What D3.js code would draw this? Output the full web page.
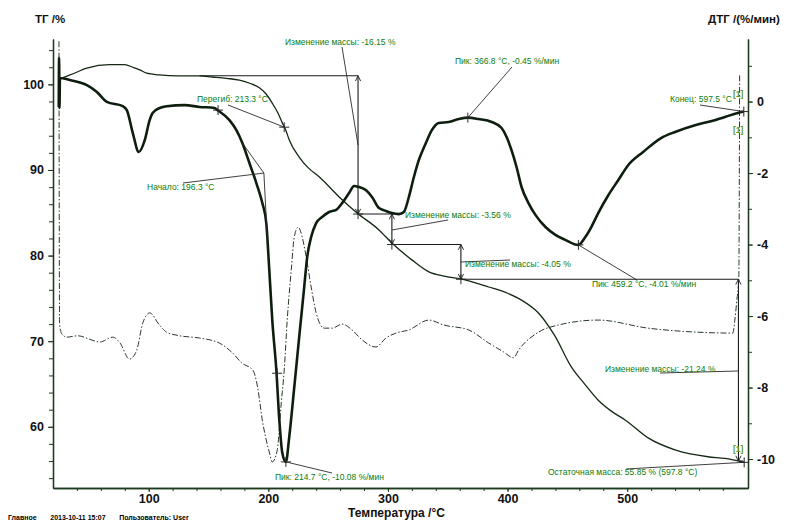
<!DOCTYPE html>
<html>
<head>
<meta charset="utf-8">
<script src="https://cdn.jsdelivr.net/npm/d3@7"></script>
<style>
  body { margin: 0; background: #fff; }
  text { font-family: "Liberation Sans", Arial, sans-serif; }
  .ann { font-size: 8.5px; fill: #0c7c0c; }
  .axis text { font-size: 12.5px; font-weight: bold; fill: #111; }
  .title { font-size: 11.5px; font-weight: bold; fill: #111; }
</style>
</head>
<body>
<svg id="chart" width="791" height="522"></svg>
<script>
// ТГ кривая: [температура °C, масса %]
const tgData = [
  [25.0, 100.8], [25.8, 100.75], [34.2, 101.1], [48.3, 101.9], [67.5, 102.3], [80, 102.3],
  [86.7, 102.0], [92.5, 101.7], [98.3, 101.3], [109, 101.1], [125, 101.0], [142.5, 101.0],
  [153.3, 100.86], [165, 100.7], [175.8, 100.5], [185, 100.1], [192.5, 99.6], [198, 98.9],
  [203.3, 97.8], [207.5, 96.8], [211.7, 95.5], [214.7, 94.6], [217.5, 93.5], [225.8, 91.5],
  [233, 90.3], [242.5, 89.2], [259.2, 86.85], [274.2, 84.98], [292.5, 83.0], [303.3, 81.47],
  [320, 79.5], [334.2, 78.1], [347, 77.6], [360.8, 77.27], [384.2, 76.33], [400, 75.6],
  [411.7, 74.8], [425.8, 73.3], [439.2, 70.7], [453.3, 67.0], [465, 64.9], [475.8, 63.1],
  [487, 61.8], [498.3, 60.8], [517.5, 58.7], [540, 57.3], [567.5, 56.5], [581.7, 56.3],
  [597.8, 55.85]
];

// ДТГ кривая: [температура °C, %/мин]
const dtgData = [
  [24.8, -0.15], [25.1, 1.22], [25.4, -0.18], [25.8, 0.66], [34.2, 0.60], [48.3, 0.46],
  [56.7, 0.27], [65, -0.01], [78.3, -0.13], [81.7, -0.24], [86.7, -0.88], [91.7, -1.41],
  [96.7, -1.08], [100.8, -0.52], [103.3, -0.32], [109.2, -0.18], [115, -0.13], [130, -0.10],
  [142.5, -0.15], [155, -0.18], [157.5, -0.24], [167.5, -0.52], [173.3, -0.80], [178.3, -1.16],
  [184.2, -1.72], [190, -2.28], [195, -2.84], [198.3, -3.40], [200.8, -4.71], [203.3, -6.11],
  [206.7, -7.51], [209.2, -8.91], [211.7, -9.83], [214.7, -10.08], [217.5, -9.38], [221.7, -7.99],
  [225.8, -6.59], [230, -5.19], [232.5, -4.35], [235.8, -3.79], [240, -3.40], [245, -3.23],
  [250.8, -3.09], [256.7, -3.03], [261.7, -2.84], [267.5, -2.56], [271.7, -2.36], [275.8, -2.39],
  [281.7, -2.48], [286.7, -2.67], [292.5, -2.98], [298.3, -3.06], [303.3, -3.12], [309.2, -3.15],
  [313.3, -3.09], [317.5, -2.67], [321.7, -2.11], [325.8, -1.64], [331.7, -1.16], [336.7, -0.80],
  [342.5, -0.60], [350.8, -0.57], [359.2, -0.49], [366.8, -0.45], [375.8, -0.49], [386.7, -0.57],
  [395, -0.74], [399.2, -0.99], [403.3, -1.36], [407.5, -1.83], [411.7, -2.39], [417.5, -2.84],
  [423.3, -3.17], [431.7, -3.51], [440, -3.73], [448.3, -3.87], [459.2, -4.01], [465, -3.79],
  [470, -3.51], [475.8, -3.12], [484.2, -2.62], [492.5, -2.20], [500.8, -1.78], [513.3, -1.41],
  [528.3, -1.02], [540, -0.85], [556.7, -0.66], [570, -0.55], [581.7, -0.43], [592.5, -0.32],
  [597.5, -0.28]
];

// третья кривая (штрих-пунктир), без шкалы: условные единицы 0..100
const dtaData = [
  [25.0, 99.5], [25.5, 36.5], [27, 34.5], [31.5, 33.6], [40.8, 33.9], [52, 33.0], [59, 32.5],
  [70, 33.6], [76, 32.3], [84, 28.7], [90, 30.7], [95, 36.7], [100.8, 39.0], [109, 36.3],
  [115, 34.7], [126, 33.9], [142.5, 33.4], [159, 32.3], [170, 30.1], [178, 27.8], [187, 26.3],
  [191, 22.5], [195, 15.1], [201, 7.8], [203.3, 5.8], [207.5, 8.5], [210.8, 18.9], [213.3, 26.3],
  [215.8, 37.4], [219.2, 48.6], [221.7, 55.9], [225, 58.1], [228.3, 55.9], [231.7, 51.4],
  [235.8, 44.8], [240, 39.0], [246.7, 35.6], [253.3, 35.6], [261.7, 36.5], [270, 35.2],
  [278.3, 33.0], [290, 31.4], [298.3, 33.4], [306.7, 34.5], [317.5, 35.2], [334.2, 37.4],
  [346.7, 36.3], [367.5, 35.2], [384.2, 32.3], [396.7, 30.3], [405, 29.0], [409.2, 30.7],
  [425.8, 34.7], [442.5, 36.3], [475.8, 37.4], [517.5, 35.6], [559.2, 34.7], [588.3, 34.5],
  [590, 37.4], [591.7, 41.9], [593.3, 46.3], [594, 92.0]
];

// ступени изменения массы: [T, уровень до, уровень после, T конца полки]
const massSteps = [
  [275, 101.0, 84.85, 306],
  [303.3, 84.85, 81.29, 361],
  [361, 81.29, 77.24, 593],
  [593, 77.24, 56.0, 597]
];
const stepLabels = ["Изменение массы: -16.15 %", "Изменение массы: -3.56 %",
  "Изменение массы: -4.05 %", "Изменение массы: -21.24 %"];

const xTicks = [100, 200, 300, 400, 500];
const tgTicks = [60, 70, 80, 90, 100];
const dtgTicks = [-10, -8, -6, -4, -2, 0];

const svg = d3.select("#chart");
const x = d3.scaleLinear().domain([20, 601]).range([53, 748]);
const yTG = d3.scaleLinear().domain([52.85, 105.3]).range([488, 39]);
const yDTG = d3.scaleLinear().domain([-10.81, 1.75]).range([488, 39]);
const yA = d3.scaleLinear().domain([0, 100]).range([488, 39]);

// оси
function fmt(d) { return String(d); }
svg.append("g").attr("class", "axis").attr("transform", "translate(53,0)")
  .call(d3.axisLeft(yTG).tickValues(tgTicks).tickFormat(fmt).tickSize(5).tickPadding(4).tickSizeOuter(0));
svg.append("g").attr("transform", "translate(53,0)")
  .call(d3.axisLeft(yTG).tickValues(d3.range(54, 105, 2)).tickFormat("").tickSize(4).tickSizeOuter(0));
svg.append("g").attr("class", "axis").attr("transform", "translate(748,0)")
  .call(d3.axisRight(yDTG).tickValues(dtgTicks).tickFormat(fmt).tickSize(5).tickPadding(4).tickSizeOuter(0));
svg.append("g").attr("transform", "translate(748,0)")
  .call(d3.axisRight(yDTG).tickValues(d3.range(-10, 2, 1)).tickFormat("").tickSize(4).tickSizeOuter(0));
svg.append("g").attr("class", "axis").attr("transform", "translate(0,488)")
  .call(d3.axisBottom(x).tickValues(xTicks).tickFormat(fmt).tickSize(4).tickPadding(2).tickSizeOuter(0));
svg.append("g").attr("transform", "translate(0,488)")
  .call(d3.axisBottom(x).tickValues(d3.range(40, 600, 20)).tickFormat("").tickSize(3).tickSizeOuter(0));
svg.selectAll(".domain").attr("stroke", "#1d3a1d").attr("stroke-width", 1.3);
svg.selectAll(".tick line").attr("stroke", "#1d3a1d");

svg.append("text").attr("class", "title").attr("x", 35).attr("y", 23).text("ТГ /%");
svg.append("text").attr("class", "title").attr("x", 708).attr("y", 23).text("ДТГ /(%/мин)");
svg.append("text").attr("class", "title").attr("x", 348).attr("y", 517).style("font-size", "12px").text("Температура /°C");
svg.append("text").attr("x", 8).attr("y", 520).style("font-size", "7px").style("font-weight", "bold")
  .attr("xml:space", "preserve").text("Главное       2013-10-11 15:07       Пользователь: User");

// кривые
const lineTG = d3.line().x(d => x(d[0])).y(d => yTG(d[1])).curve(d3.curveMonotoneX);
const lineDTG = d3.line().x(d => x(d[0])).y(d => yDTG(d[1])).curve(d3.curveMonotoneX);
const lineA = d3.line().x(d => x(d[0])).y(d => yA(d[1])).curve(d3.curveMonotoneX);

svg.append("path").datum(dtaData).attr("d", lineA).attr("fill", "none")
  .attr("stroke", "#2a3a2a").attr("stroke-width", 1).attr("stroke-dasharray", "6,2,1.5,2");
svg.append("path").datum(tgData).attr("d", lineTG).attr("fill", "none")
  .attr("stroke", "#142814").attr("stroke-width", 1.3);
svg.append("path").datum(dtgData).attr("d", lineDTG).attr("fill", "none")
  .attr("stroke", "#0e1e0e").attr("stroke-width", 2.6);

// стрелки
const defs = svg.append("defs");
defs.append("marker").attr("id", "arr").attr("viewBox", "0 0 10 10").attr("refX", 9).attr("refY", 5)
  .attr("markerWidth", 6).attr("markerHeight", 7).attr("orient", "auto-start-reverse")
  .append("path").attr("d", "M1,1 L9,5 L1,9").attr("fill", "none").attr("stroke", "#222").attr("stroke-width", 1.4);

const ann = svg.append("g");
function seg(x1, y1, x2, y2, w) {
  ann.append("line").attr("x1", x1).attr("y1", y1).attr("x2", x2).attr("y2", y2)
    .attr("stroke", "#2a2a2a").attr("stroke-width", w || 0.9);
}
function cross(px, py) {
  seg(px - 5, py, px + 5, py, 1);
  seg(px, py - 5, px, py + 5, 1);
}
function label(t, px, py, cls) {
  ann.append("text").attr("class", cls || "ann").attr("x", px).attr("y", py).text(t);
}

// полки и вертикальные стрелки изменения массы
ann.append("line").attr("x1", x(142.5)).attr("x2", x(massSteps[0][0]))
  .attr("y1", yTG(massSteps[0][1])).attr("y2", yTG(massSteps[0][1]))
  .attr("stroke", "#1a1a1a").attr("stroke-width", 1.1);
massSteps.forEach((s, i) => {
  const px = x(s[0]);
  ann.append("line").attr("x1", px).attr("x2", px).attr("y1", yTG(s[1])).attr("y2", yTG(s[2]))
    .attr("stroke", "#1a1a1a").attr("stroke-width", 1.1)
    .attr("marker-start", "url(#arr)").attr("marker-end", "url(#arr)");
  ann.append("line").attr("x1", px).attr("x2", x(s[3])).attr("y1", yTG(s[2])).attr("y2", yTG(s[2]))
    .attr("stroke", "#1a1a1a").attr("stroke-width", 1.1);
  if (i < 3) cross(px, yTG(s[2]));
});
cross(x(597.8), yTG(55.85));

// подписи ступеней
const m0 = (yTG(massSteps[0][1]) + yTG(massSteps[0][2])) / 2;
seg(342, 47, x(275), m0);
label(stepLabels[0], 285, 45);
seg(x(303.3), 230, 448, 220);
label(stepLabels[1], 405, 218);
seg(x(361), 262, 510, 260);
label(stepLabels[2], 465, 267);
seg(660, 373, x(593), 371);
label(stepLabels[3], 605, 372);

// пики ДТГ
const peaks = [
  [214.7, -10.08, "Пик: 214.7 °C, -10.08 %/мин", 332, 473, 275, 480],
  [366.8, -0.45, "Пик: 366.8 °C, -0.45 %/мин", 512, 67, 455, 64],
  [459.2, -4.01, "Пик: 459.2 °C, -4.01 %/мин", 637, 280, 592, 287],
  [597.5, -0.28, "Конец: 597.5 °C", 700, 105, 670, 102]
];
peaks.forEach(p => {
  const px = x(p[0]), py = yDTG(p[1]);
  cross(px, py);
  seg(px, py, p[3], p[4]);
  label(p[2], p[5], p[6]);
});
cross(x(158), yDTG(-0.24));
cross(x(207.3), yDTG(-7.6));

// перегиб на ТГ
cross(x(213.3), yTG(95.0));
seg(228, 105, x(213.3), yTG(95.0));
label("Перегиб: 213.3 °C", 197, 102);

// начало (онсет)
const onX = x(196.3), onY = yDTG(-2.0);
seg(x(178.3), yDTG(-1.16), onX, onY);
seg(onX, onY, x(199.2), yDTG(-3.87));
seg(183, 183, onX, onY);
label("Начало: 196.3 °C", 147, 190);

// остаточная масса
seg(626, 469, x(597.8), yTG(55.85));
label("Остаточная масса: 55.85 % (597.8 °C)", 548, 475);

// метки [1]
[[733, 97], [733, 133], [733, 452]].forEach(p => {
  ann.append("text").attr("x", p[0]).attr("y", p[1]).style("font-size", "8.5px")
    .style("font-weight", "bold").attr("fill", "#5f9a10").text("[1]");
});
</script>
</body>
</html>
